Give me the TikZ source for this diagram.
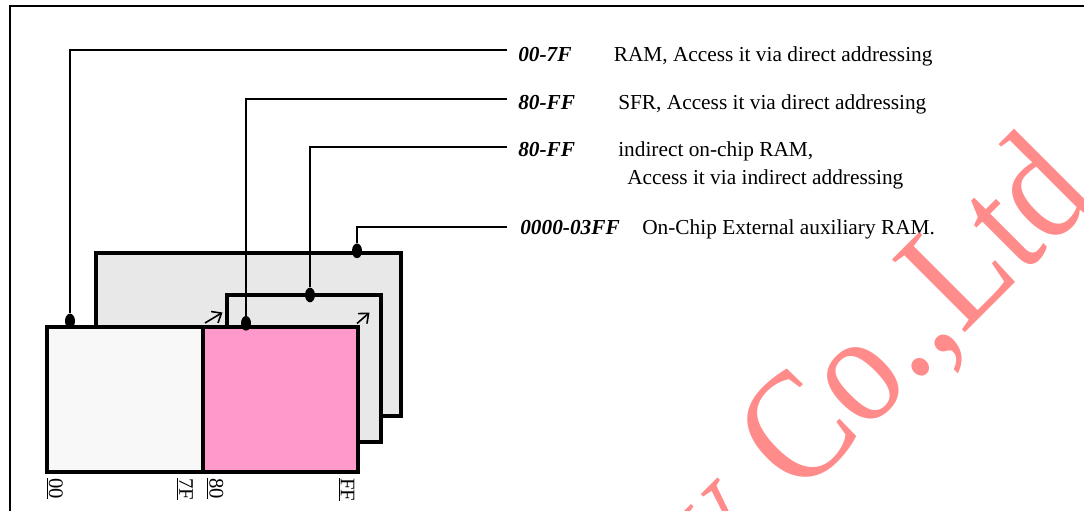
\documentclass[tikz,border=0pt]{standalone}
\usepackage{fontspec}
\setmainfont{Liberation Serif}
\usetikzlibrary{shapes.geometric,arrows.meta}
\definecolor{grayA}{RGB}{232,232,232}
\definecolor{whiteA}{RGB}{248,248,248}
\definecolor{pinkA}{RGB}{255,153,204}
\definecolor{wmred}{RGB}{255,110,110}
\begin{document}
\begin{tikzpicture}[x=0.75pt,y=-0.75pt,
  txt/.style={font=\fontsize{16}{19}\selectfont, inner sep=0pt, anchor=base west},
  code/.style={txt, font=\fontsize{16}{19}\selectfont\bfseries\itshape},
  addr/.style={font=\fontsize{15.5}{18}\selectfont, inner sep=0pt, rotate=-90, anchor=south west},
  conn/.style={line width=1.5pt},
  dot/.style={ellipse, fill=black, inner sep=0pt, minimum width=7.5pt, minimum height=11pt},
  mem/.style={line width=3pt, draw=black},
  cue/.style={line width=1.2pt, -{Straight Barb[length=6pt,width=10pt]}}]
\useasboundingbox (0,0) rectangle (1084,510);
\begin{scope}
\clip (0,0) rectangle (1084,510);
% frame
\draw[line width=1.5pt] (10,520) -- (10,6) -- (1095,6);
% memory blocks
\draw[mem, fill=grayA] (96.3,252.8) rectangle (401,416.4);
\draw[mem, fill=grayA] (226.5,294.5) rectangle (380.5,441.5);
\draw[mem, fill=whiteA] (47,326.7) rectangle (203,471.5);
\draw[mem, fill=pinkA] (203,326.7) rectangle (357.5,471.5);
% small arrows
\coordinate (a1s) at (205,323);
\coordinate (a1e) at (222.5,312.5);
\coordinate (a2s) at (357,323.5);
\coordinate (a2e) at (369.5,312.5);
\draw[cue] (a1s) -- (a1e);
\draw[cue] (a2s) -- (a2e);
% dots
\node[dot] (p1) at (70,321) {};
\node[dot] (p2) at (246,323.3) {};
\node[dot] (p3) at (310,295) {};
\node[dot] (p4) at (357,250.8) {};
% line ends
\coordinate (e1) at (507,50);
\coordinate (e2) at (507,98.5);
\coordinate (e3) at (507,146.7);
\coordinate (e4) at (507,227);
\draw[conn] (p1) |- (e1);
\draw[conn] (p2) |- (e2);
\draw[conn] (p3) |- (e3);
\draw[conn] (p4) |- (e4);
% texts
\node[code] (c1) at (518,61) {00-7F};
\node[txt] (t1) at (613.5,61) {RAM, Access it via direct addressing};
\node[code] (c2) at (518,109.5) {80-FF};
\node[txt] (t2) at (618,109.5) {SFR, Access it via direct addressing};
\node[code] (c3) at (518,156.5) {80-FF};
\node[txt] (t3) at (618,156.5) {indirect on-chip RAM,};
\node[txt] (t3b) at (627,184) {Access it via indirect addressing};
\node[code] (c4) at (520,234) {0000-03FF};
\node[txt] (t4) at (642,234) {On-Chip External auxiliary RAM.};
% address labels
\node[addr] (l00) at (46,478) {\underline{00}};
\node[addr] (l7f) at (176.5,478) {\underline{7F}};
\node[addr] (l80) at (206.5,478) {\underline{80}};
\node[addr] (lff) at (338,478) {\underline{FF}};
% watermark
\node[inner sep=0pt, anchor=base west, rotate=45, xscale=0.88, text=wmred,
  font=\fontsize{118}{118}\selectfont, opacity=0.8] (wm) at (799,499)
  {\llap{y\hspace{0.3em}}Co.,Ltd};
\end{scope}
\end{tikzpicture}
\end{document}
